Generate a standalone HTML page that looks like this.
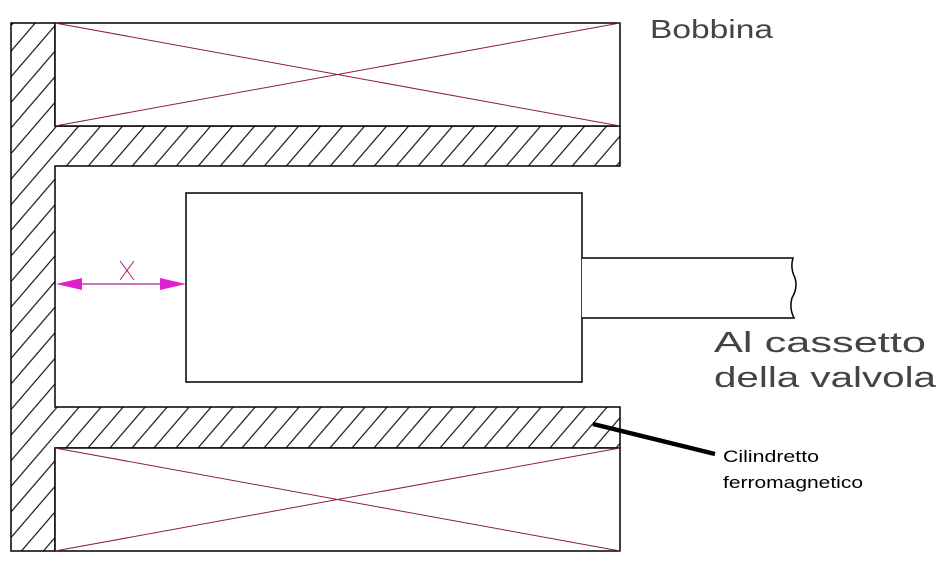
<!DOCTYPE html>
<html><head><meta charset="utf-8"><style>html,body{margin:0;padding:0;background:#fff}svg{display:block}</style></head>
<body>
<svg width="948" height="572" viewBox="0 0 948 572" xmlns="http://www.w3.org/2000/svg">
<defs>
<pattern id="h" patternUnits="userSpaceOnUse" width="22" height="22" patternTransform="translate(11,0) skewX(8)">
<line x1="-1" y1="23" x2="23" y2="-1" stroke="#000" stroke-width="1"/>
<line x1="-12" y1="12" x2="12" y2="-12" stroke="#000" stroke-width="1"/>
<line x1="10" y1="34" x2="34" y2="10" stroke="#000" stroke-width="1"/>
</pattern>
</defs>
<rect width="948" height="572" fill="#fff"/>
<path d="M11,23 H55 V126 H620 V166 H55 V407 H620 V448 H55 V551 H11 Z" fill="url(#h)" stroke="#000" stroke-width="1.5"/>
<rect x="55" y="23" width="565" height="103" fill="#fff" stroke="#000" stroke-width="1.5"/>
<rect x="55" y="448" width="565" height="103" fill="#fff" stroke="#000" stroke-width="1.5"/>
<g stroke="#8a1f3a" stroke-width="1">
<line x1="55" y1="23" x2="620" y2="126"/><line x1="55" y1="126" x2="620" y2="23"/>
<line x1="55" y1="448" x2="620" y2="551"/><line x1="55" y1="551" x2="620" y2="448"/>
</g>
<rect x="186" y="193" width="396" height="189" fill="#fff" stroke="#000" stroke-width="1.5"/>
<path d="M582,258 H793 Q790,268 795,278 Q798,288 792,298 Q789,308 794,318 H582" fill="#fff" stroke="#000" stroke-width="1.5"/>
<line x1="60" y1="284" x2="182" y2="284" stroke="#b0208a" stroke-width="1.2"/>
<polygon points="56,284 82,278 82,290" fill="#e020d0"/>
<polygon points="186,284 160,278 160,290" fill="#e020d0"/>
<path d="M120,261 L134,280 M134,261 L120,280" stroke="#b0208a" stroke-width="1"/>
<line x1="593" y1="424" x2="715" y2="454" stroke="#000" stroke-width="4.5"/>
<g font-family="Liberation Sans, sans-serif" fill="#444" font-weight="normal">
<text x="650" y="38" font-size="26" textLength="123" lengthAdjust="spacingAndGlyphs">Bobbina</text>
<text x="714" y="352" font-size="29" textLength="212" lengthAdjust="spacingAndGlyphs">Al cassetto</text>
<text x="714" y="387" font-size="29" textLength="222" lengthAdjust="spacingAndGlyphs">della valvola</text>
</g>
<g font-family="Liberation Sans, sans-serif" fill="#000" font-size="17">
<text x="723" y="462" textLength="96" lengthAdjust="spacingAndGlyphs">Cilindretto</text>
<text x="723" y="488" textLength="140" lengthAdjust="spacingAndGlyphs">ferromagnetico</text>
</g>
</svg>
</body></html>
